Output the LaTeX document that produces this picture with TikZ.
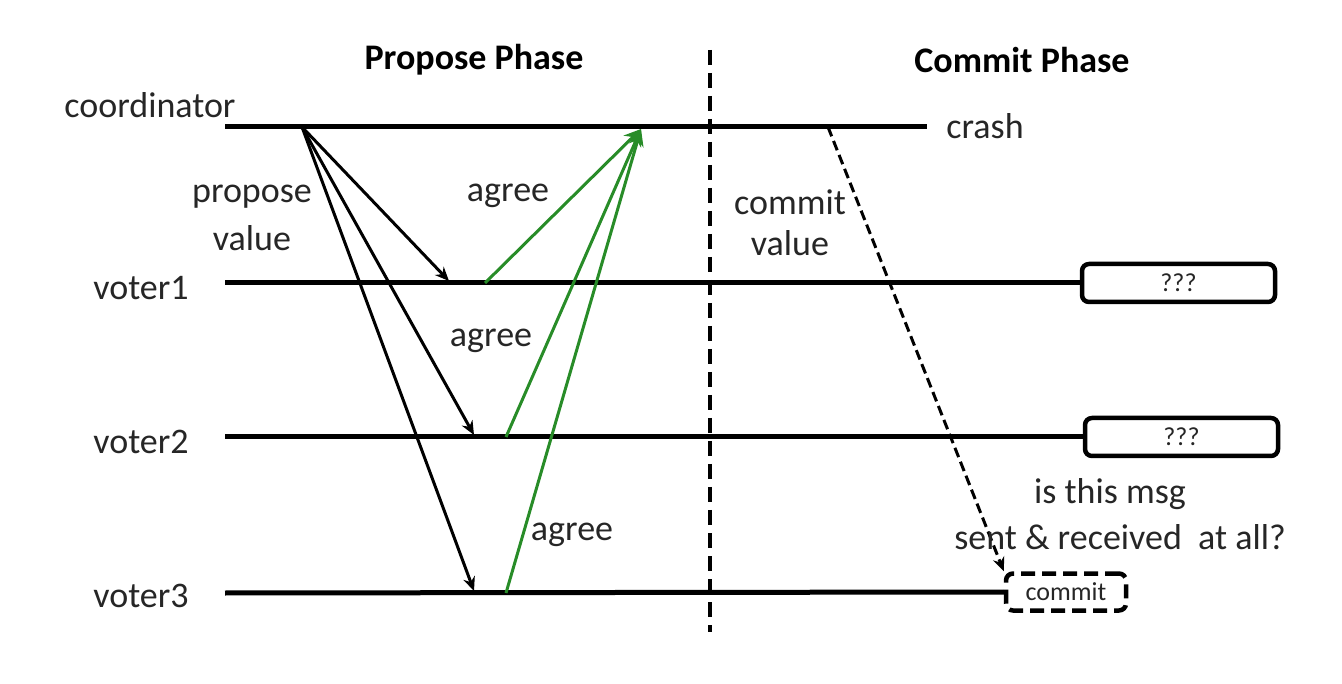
\documentclass[tikz,border=0pt]{standalone}
\usepackage{fontspec}
\setmainfont{Carlito}
\usetikzlibrary{arrows.meta}
\definecolor{agreegreen}{RGB}{40,140,40}
\begin{document}
\begin{tikzpicture}[x=1pt,y=-1pt,
  lbl/.style={font=\fontsize{36}{40}\selectfont, text=black!85, inner sep=0pt},
  phase/.style={font=\fontsize{36}{40}\selectfont\bfseries, inner sep=0pt},
  timeline/.style={line width=5pt, black},
  msg/.style={line width=3pt, -{Stealth[open, length=14pt, width=12pt, line width=2.5pt]}},
  ok/.style={line width=3pt, agreegreen, -{Stealth[length=17pt, width=15pt]}},
  stbox/.style={draw, line width=4.5pt, rounded corners=7pt, minimum width=193pt, minimum height=38pt, font=\fontsize{26}{30}\selectfont, text=black!85, inner sep=0pt},
  cmbox/.style={draw, line width=4.5pt, dash pattern=on 14pt off 7pt, rounded corners=7pt, minimum width=120pt, minimum height=37pt, font=\fontsize{26}{30}\selectfont, text=black!85, inner sep=0pt}
]
\useasboundingbox (0,0) rectangle (1342,684);
% labels
\node[phase] (pp) at (474,60) {Propose Phase};
\node[phase] (cp) at (1022,60) {Commit Phase};
\node[lbl] (lc) at (150,105) {coordinator};
\node[lbl] (l1) at (141,288) {voter1};
\node[lbl] (l2) at (141,442) {voter2};
\node[lbl] (l3) at (141,596) {voter3};
\node[lbl] (crash) at (985,126) {crash};
% coordinates
\coordinate (c0) at (225,127); \coordinate (c1) at (927,127);
\coordinate (v10) at (225,283);
\coordinate (v20) at (225,437);
\coordinate (v30) at (225,593);
\node[stbox] (b1) at (1178.5,283) {???};
\node[stbox] (b2) at (1181.5,437) {???};
\node[cmbox] (b3) at (1066,592) {commit};
% timelines
\draw[timeline] (c0) -- (c1);
\draw[timeline] (v10) -- (b1.west);
\draw[timeline] (v20) -- (b2.west);
\draw[timeline] (v30) -- (b3.west);
% phase divider
\coordinate (d0) at (710,50); \coordinate (d1) at (710,632);
\draw[line width=3.5pt, dash pattern=on 15pt off 8pt] (d0) -- (d1);
% propose messages
\coordinate (src) at (302,127);
\coordinate (r1) at (449,281); \coordinate (r2) at (474,435); \coordinate (r3) at (474,591);
\draw[msg] (src) -- (r1);
\draw[msg] (src) -- (r2);
\draw[msg] (src) -- (r3);
% agree messages
\coordinate (tgt) at (641,129);
\coordinate (a1) at (485,283); \coordinate (a2) at (506,437); \coordinate (a3) at (506,593);
\draw[ok] (a1) -- (tgt);
\draw[ok] (a2) -- (tgt);
\draw[ok] (a3) -- (tgt);
% commit message
\coordinate (cs) at (828,127);
\draw[line width=3pt, dash pattern=on 10pt off 5pt, -{Stealth[open, length=14pt, width=12pt, line width=2.5pt, sep=0pt]}] (cs) -- (b3.north west);
% text labels
\node[lbl] (pv1) at (252,197) {propose};
\node[lbl] (pv2) at (252,238) {value};
\node[lbl] (cv1) at (790,202) {commit};
\node[lbl] (cv2) at (790,243) {value};
\node[lbl] (ag1) at (508,196) {agree};
\node[lbl] (ag2) at (491,341) {agree};
\node[lbl] (ag3) at (572,535) {agree};
\node[lbl] (q1) at (1110,494) {is this msg};
\node[lbl] (q2) at (1120,537) {sent \& received\ \ at all?};
\end{tikzpicture}
\end{document}
